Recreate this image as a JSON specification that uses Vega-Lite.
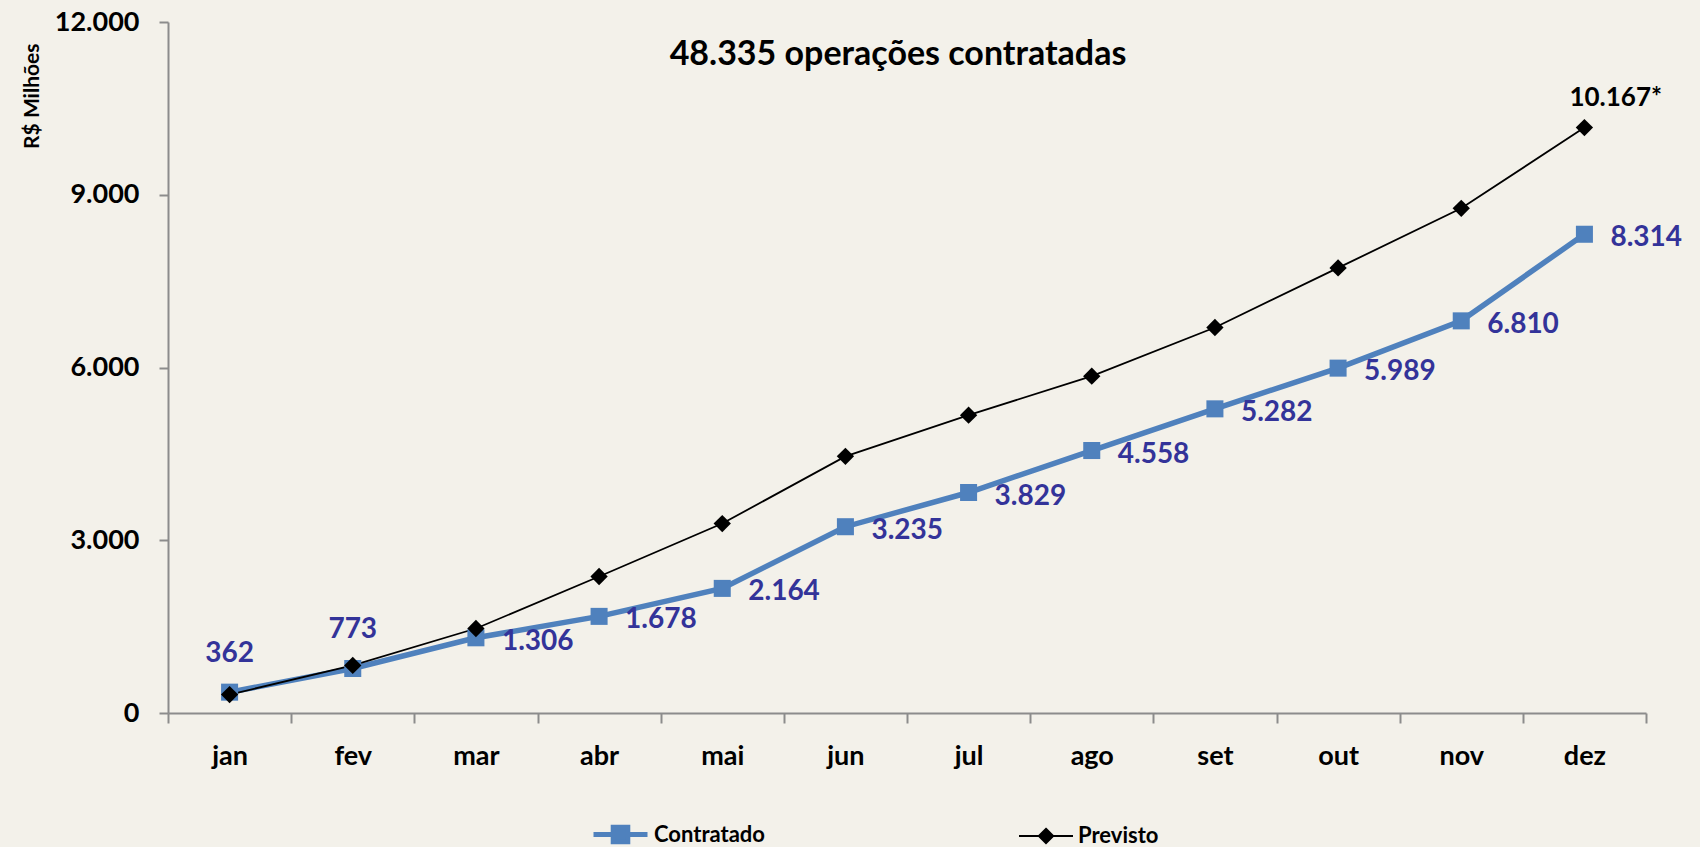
{
  "$schema": "https://vega.github.io/schema/vega-lite/v6.json",
  "width": 1478,
  "height": 691,
  "autosize": {"type": "none"},
  "padding": {"left": 168, "top": 22, "right": 54, "bottom": 134},
  "background": "#F3F1EA",
  "config": {
    "view": {"stroke": null},
    "font": "Lato",
    "locale": {"number": {"decimal": ",", "thousands": ".", "grouping": [3], "currency": ["R$", ""]}}
  },
  "title": {
    "text": "48.335 operações contratadas",
    "font": "Lato",
    "fontSize": 34,
    "fontWeight": "bold",
    "color": "#000000",
    "anchor": "middle",
    "baseline": "middle",
    "offset": -81,
    "dx": -9
  },
  "data": {
    "values": [
      {"mes": "jan", "serie": "Contratado", "valor": 362, "rotulo": "362"},
      {"mes": "fev", "serie": "Contratado", "valor": 773, "rotulo": "773"},
      {"mes": "mar", "serie": "Contratado", "valor": 1306, "rotulo": "1.306"},
      {"mes": "abr", "serie": "Contratado", "valor": 1678, "rotulo": "1.678"},
      {"mes": "mai", "serie": "Contratado", "valor": 2164, "rotulo": "2.164"},
      {"mes": "jun", "serie": "Contratado", "valor": 3235, "rotulo": "3.235"},
      {"mes": "jul", "serie": "Contratado", "valor": 3829, "rotulo": "3.829"},
      {"mes": "ago", "serie": "Contratado", "valor": 4558, "rotulo": "4.558"},
      {"mes": "set", "serie": "Contratado", "valor": 5282, "rotulo": "5.282"},
      {"mes": "out", "serie": "Contratado", "valor": 5989, "rotulo": "5.989"},
      {"mes": "nov", "serie": "Contratado", "valor": 6810, "rotulo": "6.810"},
      {"mes": "dez", "serie": "Contratado", "valor": 8314, "rotulo": "8.314"},
      {"mes": "jan", "serie": "Previsto", "valor": 320, "rotulo": ""},
      {"mes": "fev", "serie": "Previsto", "valor": 827, "rotulo": ""},
      {"mes": "mar", "serie": "Previsto", "valor": 1467, "rotulo": ""},
      {"mes": "abr", "serie": "Previsto", "valor": 2370, "rotulo": ""},
      {"mes": "mai", "serie": "Previsto", "valor": 3290, "rotulo": ""},
      {"mes": "jun", "serie": "Previsto", "valor": 4457, "rotulo": ""},
      {"mes": "jul", "serie": "Previsto", "valor": 5172, "rotulo": ""},
      {"mes": "ago", "serie": "Previsto", "valor": 5849, "rotulo": ""},
      {"mes": "set", "serie": "Previsto", "valor": 6695, "rotulo": ""},
      {"mes": "out", "serie": "Previsto", "valor": 7730, "rotulo": ""},
      {"mes": "nov", "serie": "Previsto", "valor": 8764, "rotulo": ""},
      {"mes": "dez", "serie": "Previsto", "valor": 10167, "rotulo": "10.167*"}
    ]
  },
  "encoding": {
    "x": {
      "field": "mes",
      "type": "nominal",
      "sort": ["jan", "fev", "mar", "abr", "mai", "jun", "jul", "ago", "set", "out", "nov", "dez"],
      "scale": {"type": "band", "paddingInner": 0, "paddingOuter": 0},
      "axis": {
        "title": null,
        "labelAngle": 0,
        "tickBand": "extent",
        "labelFont": "Lato",
        "labelFontSize": 27,
        "labelFontWeight": "bold",
        "labelColor": "#000000",
        "labelPadding": 20,
        "tickSize": 10,
        "tickColor": "#8C8C8C",
        "domainColor": "#8C8C8C",
        "domainWidth": 2,
        "tickWidth": 2,
        "grid": false
      }
    },
    "y": {
      "field": "valor",
      "type": "quantitative",
      "scale": {"domain": [0, 12000], "nice": false},
      "axis": {
        "values": [0, 3000, 6000, 9000, 12000],
        "format": ",d",
        "title": "R$ Milhões",
        "titleFont": "Lato",
        "titleFontSize": 21,
        "titleFontWeight": "bold",
        "titleColor": "#000000",
        "titleAnchor": "end",
        "titleY": 21,
        "titlePadding": 12,
        "labelFont": "Lato",
        "labelFontSize": 27,
        "labelFontWeight": "bold",
        "labelColor": "#000000",
        "labelPadding": 20,
        "tickSize": 9,
        "tickColor": "#8C8C8C",
        "domainColor": "#8C8C8C",
        "domainWidth": 2,
        "tickWidth": 2,
        "grid": false
      }
    }
  },
  "layer": [
    {
      "mark": {"type": "line"},
      "encoding": {
        "color": {
          "field": "serie",
          "type": "nominal",
          "scale": {"domain": ["Contratado", "Previsto"], "range": ["#4F81BD", "#000000"]},
          "legend": {
            "values": ["Contratado"],
            "title": null,
            "orient": "none",
            "direction": "horizontal",
            "legendX": 423,
            "legendY": 783,
            "padding": 0,
            "symbolType": "M-1,0H1M-0.27,-0.27H0.27V0.27H-0.27Z",
            "symbolSize": 2916,
            "symbolStrokeWidth": 5,
            "symbolFillColor": "#4F81BD",
            "symbolStrokeColor": "#4F81BD",
            "labelOffset": 4,
            "labelFont": "Lato",
            "labelFontSize": 22,
            "labelFontWeight": "bold",
            "labelColor": "#000000"
          }
        },
        "strokeWidth": {
          "field": "serie",
          "type": "nominal",
          "scale": {"domain": ["Previsto", "Contratado"], "range": [1.8, 5.5]},
          "legend": {
            "values": ["Previsto"],
            "title": null,
            "orient": "none",
            "direction": "horizontal",
            "legendX": 850,
            "legendY": 786,
            "padding": 0,
            "symbolType": "M-1,0H1M0,-0.27L0.27,0L0,0.27L-0.27,0Z",
            "symbolSize": 2916,
            "symbolFillColor": "#000000",
            "symbolStrokeColor": "#000000",
            "labelOffset": 4,
            "labelFont": "Lato",
            "labelFontSize": 22,
            "labelFontWeight": "bold",
            "labelColor": "#000000"
          }
        }
      }
    },
    {
      "transform": [{"filter": "datum.serie === 'Contratado'"}],
      "mark": {"type": "point", "filled": true, "opacity": 1, "shape": "square", "size": 290, "color": "#4F81BD"}
    },
    {
      "transform": [{"filter": "datum.serie === 'Previsto'"}],
      "mark": {"type": "point", "filled": true, "opacity": 1, "shape": "diamond", "size": 300, "color": "#000000"}
    },
    {
      "transform": [{"filter": "datum.serie === 'Contratado' && (datum.mes === 'jan' || datum.mes === 'fev')"}],
      "mark": {"type": "text", "font": "Lato", "fontSize": 28, "fontWeight": "bold", "color": "#333399", "align": "center", "baseline": "middle", "dy": -38},
      "encoding": {"text": {"field": "rotulo"}}
    },
    {
      "transform": [{"filter": "datum.serie === 'Contratado' && datum.mes !== 'jan' && datum.mes !== 'fev'"}],
      "mark": {"type": "text", "font": "Lato", "fontSize": 28, "fontWeight": "bold", "color": "#333399", "align": "left", "baseline": "middle", "dx": 26, "dy": 4},
      "encoding": {"text": {"field": "rotulo"}}
    },
    {
      "transform": [{"filter": "datum.serie === 'Previsto' && datum.rotulo !== ''"}],
      "mark": {"type": "text", "font": "Lato", "fontSize": 26, "fontWeight": "bold", "color": "#000000", "align": "left", "baseline": "middle", "dx": -15, "dy": -30},
      "encoding": {"text": {"field": "rotulo"}}
    }
  ]
}
